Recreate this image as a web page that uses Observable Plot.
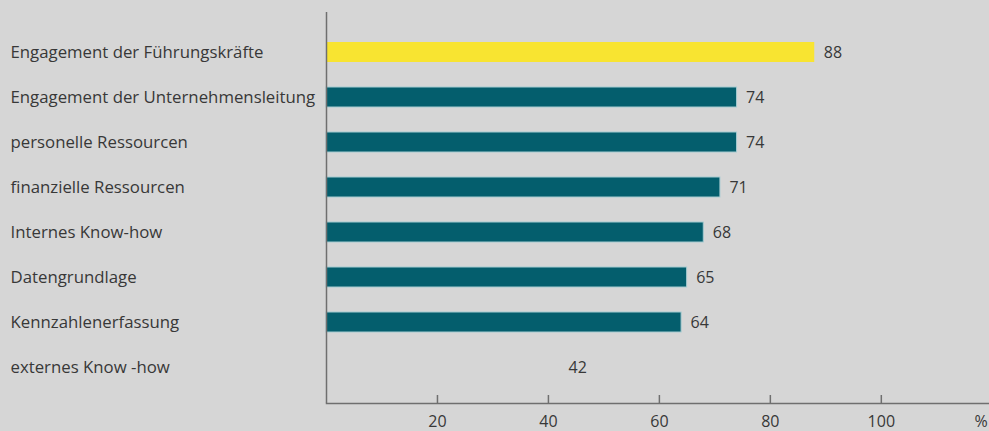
<!DOCTYPE html>
<html>
<head>
<meta charset="utf-8">
<script src="https://cdn.jsdelivr.net/npm/d3@7"></script>
<script src="https://cdn.jsdelivr.net/npm/@observablehq/plot@0.6"></script>
<style>
  html, body { margin: 0; padding: 0; background: #d6d6d6; }
</style>
</head>
<body>
<div id="chart"></div>
<script>
const categories = [
  "Engagement der Führungskräfte",
  "Engagement der Unternehmensleitung",
  "personelle Ressourcen",
  "finanzielle Ressourcen",
  "Internes Know-how",
  "Datengrundlage",
  "Kennzahlenerfassung",
  "externes Know -how"
];
const values = [88, 74, 74, 71, 68, 65, 64, 42];
const xTicks = [20, 40, 60, 80, 100];
const unitLabel = "%";
const unitPos = 118;

const data = categories.map((c, i) => ({category: c, value: values[i], index: i}));

const YELLOW = "#f8e431";
const TEAL = "#045e6d";
const AXIS = "#6f6f6f";
const TEXT = "#383838";

const fillFor = d => d.index === 0 ? YELLOW : (d.index === data.length - 1 ? "none" : TEAL);
const strokeFor = d => (d.index === 0 || d.index === data.length - 1) ? "none" : "#a6cbd1";

const chart = Plot.plot({
  width: 989,
  height: 431,
  marginLeft: 326,
  marginRight: 0,
  marginTop: 12,
  marginBottom: 28,
  style: {background: "#d6d6d6", fontFamily: "'Open Sans', sans-serif", fontSize: "16px", color: TEXT},
  x: {domain: [0, 119.5]},
  y: {domain: categories, paddingInner: 0.55, paddingOuter: 0.275, align: 0.5, insetTop: 17.5, insetBottom: 13.5},
  marks: [
    Plot.barX(data, {x: "value", y: "category", fill: fillFor, stroke: strokeFor, strokeWidth: 1}),
    Plot.text(data, {x: "value", y: "category", text: d => String(d.value), dx: 9, textAnchor: "start", fill: TEXT, fontSize: 16}),
    Plot.axisY({tickSize: 0, tickPadding: 0, textAnchor: "start", dx: -316, label: null, fill: TEXT, fontSize: 16.8}),
    Plot.axisX([...xTicks, unitPos], {tickSize: 0, tickPadding: 12, tickFormat: d => d === unitPos ? unitLabel : String(d), label: null, fill: TEXT, fontSize: 16}),
    Plot.tickX(xTicks, {x: d => d, stroke: AXIS, strokeWidth: 1.5, insetTop: 383}),
    Plot.ruleX([0], {stroke: AXIS, strokeWidth: 1.5}),
    Plot.frame({anchor: "bottom", stroke: AXIS, strokeWidth: 1.5})
  ]
});
document.getElementById("chart").appendChild(chart);
</script>
</body>
</html>
